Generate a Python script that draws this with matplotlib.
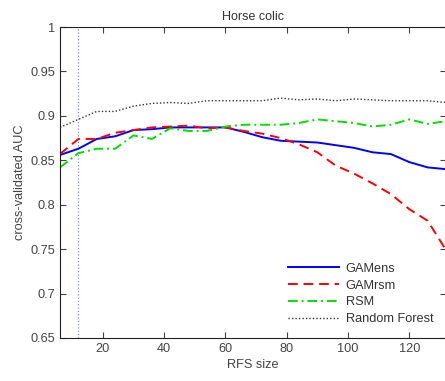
import matplotlib
matplotlib.use('Agg')
import matplotlib.pyplot as plt

plt.rcParams['font.family'] = ['Liberation Sans', 'DejaVu Sans']

rfs_size = list(range(6, 133, 6))

gamens = [0.856, 0.863, 0.874, 0.877, 0.884, 0.885, 0.887, 0.887, 0.887, 0.887, 0.882,
          0.876, 0.872, 0.871, 0.870, 0.867, 0.864, 0.859, 0.857, 0.848, 0.842, 0.840]
gamrsm = [0.857, 0.874, 0.874, 0.881, 0.884, 0.887, 0.888, 0.889, 0.886, 0.887, 0.883,
          0.880, 0.875, 0.868, 0.859, 0.844, 0.835, 0.824, 0.812, 0.795, 0.782, 0.749]
rsm = [0.842, 0.858, 0.863, 0.863, 0.878, 0.874, 0.886, 0.883, 0.883, 0.888, 0.890,
       0.890, 0.890, 0.892, 0.896, 0.894, 0.892, 0.888, 0.890, 0.896, 0.891, 0.894]
random_forest = [0.887, 0.896, 0.905, 0.905, 0.911, 0.914, 0.915, 0.914, 0.917, 0.917, 0.917,
                 0.917, 0.920, 0.918, 0.919, 0.917, 0.919, 0.918, 0.917, 0.917, 0.917, 0.915]

chosen_size = 12

fig = plt.figure(figsize=(4.45, 3.81), dpi=100)
ax = fig.add_axes([60 / 445, 43 / 381, 386 / 445, 311 / 381])

ax.axvline(chosen_size, color='#8080ff', linestyle=':', linewidth=0.9)
ax.plot(rfs_size, gamens, color='#0000ff', linewidth=1.4, label='GAMens')
ax.plot(rfs_size, gamrsm, color='#ff0000', linewidth=1.4, linestyle=(0, (5, 3)), label='GAMrsm')
ax.plot(rfs_size, rsm, color='#00e000', linewidth=1.4, linestyle=(0, (5, 2, 1, 2)), label='RSM')
ax.plot(rfs_size, random_forest, color='#333333', linewidth=1.0, linestyle=(0, (1, 1.5)),
        label='Random Forest')

ax.set_xlim(6, 132)
ax.set_ylim(0.65, 1.0)
ax.set_xticks([20, 40, 60, 80, 100, 120])
ax.set_yticks([0.65, 0.7, 0.75, 0.8, 0.85, 0.9, 0.95, 1.0])
ax.set_yticklabels(['0.65', '0.7', '0.75', '0.8', '0.85', '0.9', '0.95', '1'])
ax.tick_params(direction='in', top=True, right=True, length=4, width=0.8,
               labelsize=9.2, labelcolor='#444444', color='#444444')
for side in ax.spines.values():
    side.set_color('#222222')
    side.set_linewidth(0.8)

ax.set_title('Horse colic', fontsize=9, color='#333333', pad=5)
ax.set_xlabel('RFS size', fontsize=9.2, color='#444444', labelpad=3)
ax.set_ylabel('cross-validated AUC', fontsize=9.2, color='#444444', labelpad=3)

leg = ax.legend(loc='lower right', frameon=False, fontsize=9.2, handlelength=4.0,
                handletextpad=0.5, labelspacing=0.38, borderaxespad=0.6)
for t in leg.get_texts():
    t.set_color('#333333')

fig.savefig('out.png', dpi=100)
